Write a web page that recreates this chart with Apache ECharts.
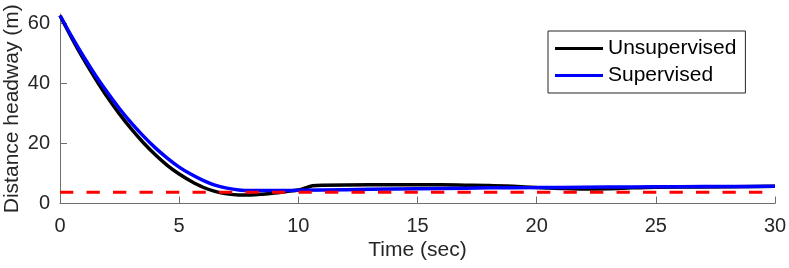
<!DOCTYPE html>
<html>
<head>
<meta charset="utf-8">
<script src="https://cdn.jsdelivr.net/npm/echarts@6/dist/echarts.min.js"></script>
<style>html,body{margin:0;padding:0;background:#fff;}#c{width:789px;height:268px;}</style>
</head>
<body>
<div id="c"></div>
<script>
var seriesNames = ['Unsupervised', 'Supervised'];
var unsupTime = [0, 0.5, 1, 1.5, 2, 2.5, 3, 3.5, 4, 4.5, 5, 5.5, 6, 6.5, 7, 7.5, 8, 8.5, 9, 9.5, 10, 10.3, 10.6, 11, 13, 16, 17, 18, 19, 20, 21, 22, 23, 24, 25, 27, 30];
var unsupDist = [62.5, 54.9, 47.8, 41.3, 35.2, 29.7, 24.7, 20.2, 16.2, 12.7, 9.8, 7.4, 5.4, 4.05, 3.2, 2.85, 2.85, 3.1, 3.5, 4.0, 4.5, 5.2, 5.9, 6.1, 6.2, 6.2, 6.1, 6.0, 5.7, 5.3, 5.0, 4.8, 4.9, 5.2, 5.4, 5.5, 5.7];
var supTime = [0, 0.5, 1, 1.5, 2, 2.5, 3, 3.5, 4, 4.5, 5, 5.5, 6, 6.5, 7, 7.5, 8, 9, 10, 12, 14, 16, 18, 20, 22, 24, 26, 28, 30];
var supDist = [62.5, 55.4, 48.7, 42.5, 36.8, 31.5, 26.7, 22.4, 18.5, 15.1, 12.1, 9.7, 7.7, 6.1, 5.1, 4.5, 4.3, 4.3, 4.4, 4.6, 4.8, 5.0, 5.2, 5.3, 5.4, 5.5, 5.6, 5.65, 5.7];
var safeTime = [0, 30];
var safeDist = [3.7, 3.7];
var xTicks = [0, 5, 10, 15, 20, 25, 30];
var yTicks = [0, 20, 40, 60];

function pairs(xs, ys) { return xs.map(function (x, i) { return [x, ys[i]]; }); }

var font = "'Liberation Sans', Arial, Helvetica, sans-serif";
var axisCol = '#6e6e6e';
var textCol = '#262626';

var chart = echarts.init(document.getElementById('c'), null, {renderer: 'canvas'});
chart.setOption({
  animation: false,
  backgroundColor: '#fff',
  grid: {left: 60, right: 14, top: 14, bottom: 64.5, containLabel: false, outerBoundsMode: 'none'},
  legend: {
    data: [{name: seriesNames[0]}, {name: seriesNames[1]}],
    orient: 'vertical',
    left: 548, top: 31,
    padding: [7, 9, 7, 7],
    itemGap: 6,
    itemWidth: 48, itemHeight: 3,
    icon: 'rect',
    backgroundColor: '#fff',
    borderColor: '#262626', borderWidth: 1,
    textStyle: {fontFamily: font, fontSize: 21, color: '#000'}
  },
  xAxis: {
    type: 'value', min: 0, max: 30, interval: 5,
    name: 'Time (sec)', nameLocation: 'middle', nameGap: 36, nameMoveOverlap: false,
    nameTextStyle: {fontFamily: font, fontSize: 21, color: textCol},
    axisLine: {show: true, lineStyle: {color: axisCol, width: 1}},
    axisTick: {show: true, inside: true, length: 7, lineStyle: {color: axisCol}, customValues: xTicks},
    axisLabel: {fontFamily: font, fontSize: 20, color: textCol, margin: 13, customValues: xTicks},
    splitLine: {show: false}
  },
  yAxis: {
    type: 'value', min: 0, max: 63,
    name: 'Distance headway (m)', nameLocation: 'middle', nameGap: 37, nameMoveOverlap: false,
    nameTextStyle: {fontFamily: font, fontSize: 21, color: textCol},
    axisLine: {show: true, lineStyle: {color: axisCol, width: 1}},
    axisTick: {show: true, inside: true, length: 7, lineStyle: {color: axisCol}, customValues: yTicks},
    axisLabel: {fontFamily: font, fontSize: 20, color: textCol, margin: 10, customValues: yTicks},
    splitLine: {show: false}
  },
  series: [
    {name: seriesNames[0], type: 'line', data: pairs(unsupTime, unsupDist), smooth: 0.3, showSymbol: false,
     lineStyle: {color: '#000', width: 3.5}, itemStyle: {color: '#000'}, z: 2},
    {name: seriesNames[1], type: 'line', data: pairs(supTime, supDist), smooth: 0.3, showSymbol: false,
     lineStyle: {color: '#0000ff', width: 3.5}, itemStyle: {color: '#0000ff'}, z: 3},
    {name: 'Safe', type: 'line', data: pairs(safeTime, safeDist), showSymbol: false,
     lineStyle: {color: '#ff0000', width: 3, type: [13.3, 13.2]}, itemStyle: {color: '#ff0000'}, z: 4}
  ]
});
</script>
</body>
</html>
